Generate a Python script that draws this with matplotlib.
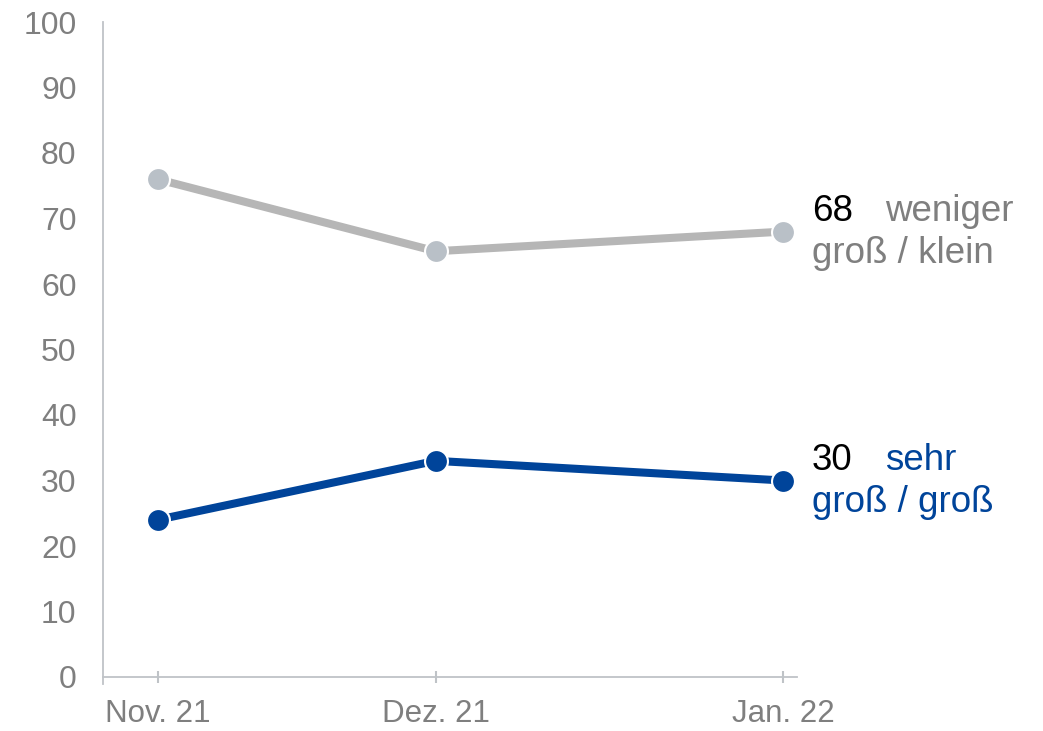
import matplotlib
matplotlib.use("Agg")
import matplotlib.pyplot as plt

plt.rcParams['font.family'] = ['Liberation Sans', 'DejaVu Sans']

# --- data ---
months = ["Nov. 21", "Dez. 21", "Jan. 22"]
days = [0, 28, 63]  # survey position in days since first wave
weniger_gross = [76, 65, 68]
sehr_gross = [24, 33, 30]

gray_line = "#b6b6b6"
gray_marker = "#b9c0c7"
blue_line = "#00449a"
text_gray = "#7f7f7f"
axis_gray = "#bfc3c7"

fig = plt.figure(figsize=(10.43, 7.31), dpi=100)
ax = fig.add_axes([103 / 1043, 1 - 677 / 731, (797 - 103) / 1043, (677 - 22) / 731])

ax.plot(days, weniger_gross, color=gray_line, lw=5.8, marker="o", ms=16.5,
        markerfacecolor=gray_marker, markeredgecolor="white", markeredgewidth=1.5,
        solid_capstyle="butt", zorder=3)
ax.plot(days, sehr_gross, color=blue_line, lw=5.8, marker="o", ms=16.5,
        markeredgecolor="white", markeredgewidth=1.5,
        solid_capstyle="butt", zorder=3)

ax.set_xlim(-5.5, 64.4)
ax.set_ylim(0, 100)
ax.set_yticks(range(0, 101, 10))
ax.set_xticks(days)
ax.set_xticklabels(months)

for s in ["top", "right"]:
    ax.spines[s].set_visible(False)
ax.spines["left"].set_color(axis_gray)
ax.spines["bottom"].set_color(axis_gray)
ax.spines["left"].set_linewidth(1.3)
ax.spines["bottom"].set_linewidth(1.3)
ax.spines["left"].set_bounds(-1, 100)

ax.tick_params(axis="y", length=0, pad=19, labelsize=23, labelcolor=text_gray)
ax.tick_params(axis="x", direction="inout", length=9, width=1.5, color=axis_gray,
               pad=11, labelsize=22.5, labelcolor=text_gray)

# end labels
def end_label(value, word1, word2, color, yval):
    x_last = days[-1]
    ax.annotate(str(value), xy=(x_last, yval), xytext=(29, 20), textcoords="offset pixels",
                ha="left", va="center", fontsize=26.5, color="black", annotation_clip=False)
    ax.annotate(word1, xy=(x_last, yval), xytext=(102, 20), textcoords="offset pixels",
                ha="left", va="center", fontsize=26.5, color=color, annotation_clip=False)
    ax.annotate(word2, xy=(x_last, yval), xytext=(29, -22), textcoords="offset pixels",
                ha="left", va="center", fontsize=26.5, color=color, annotation_clip=False)

end_label(weniger_gross[-1], "weniger", "groß / klein", text_gray, weniger_gross[-1])
end_label(sehr_gross[-1], "sehr", "groß / groß", blue_line, sehr_gross[-1])

fig.savefig("out.png", dpi=100)
